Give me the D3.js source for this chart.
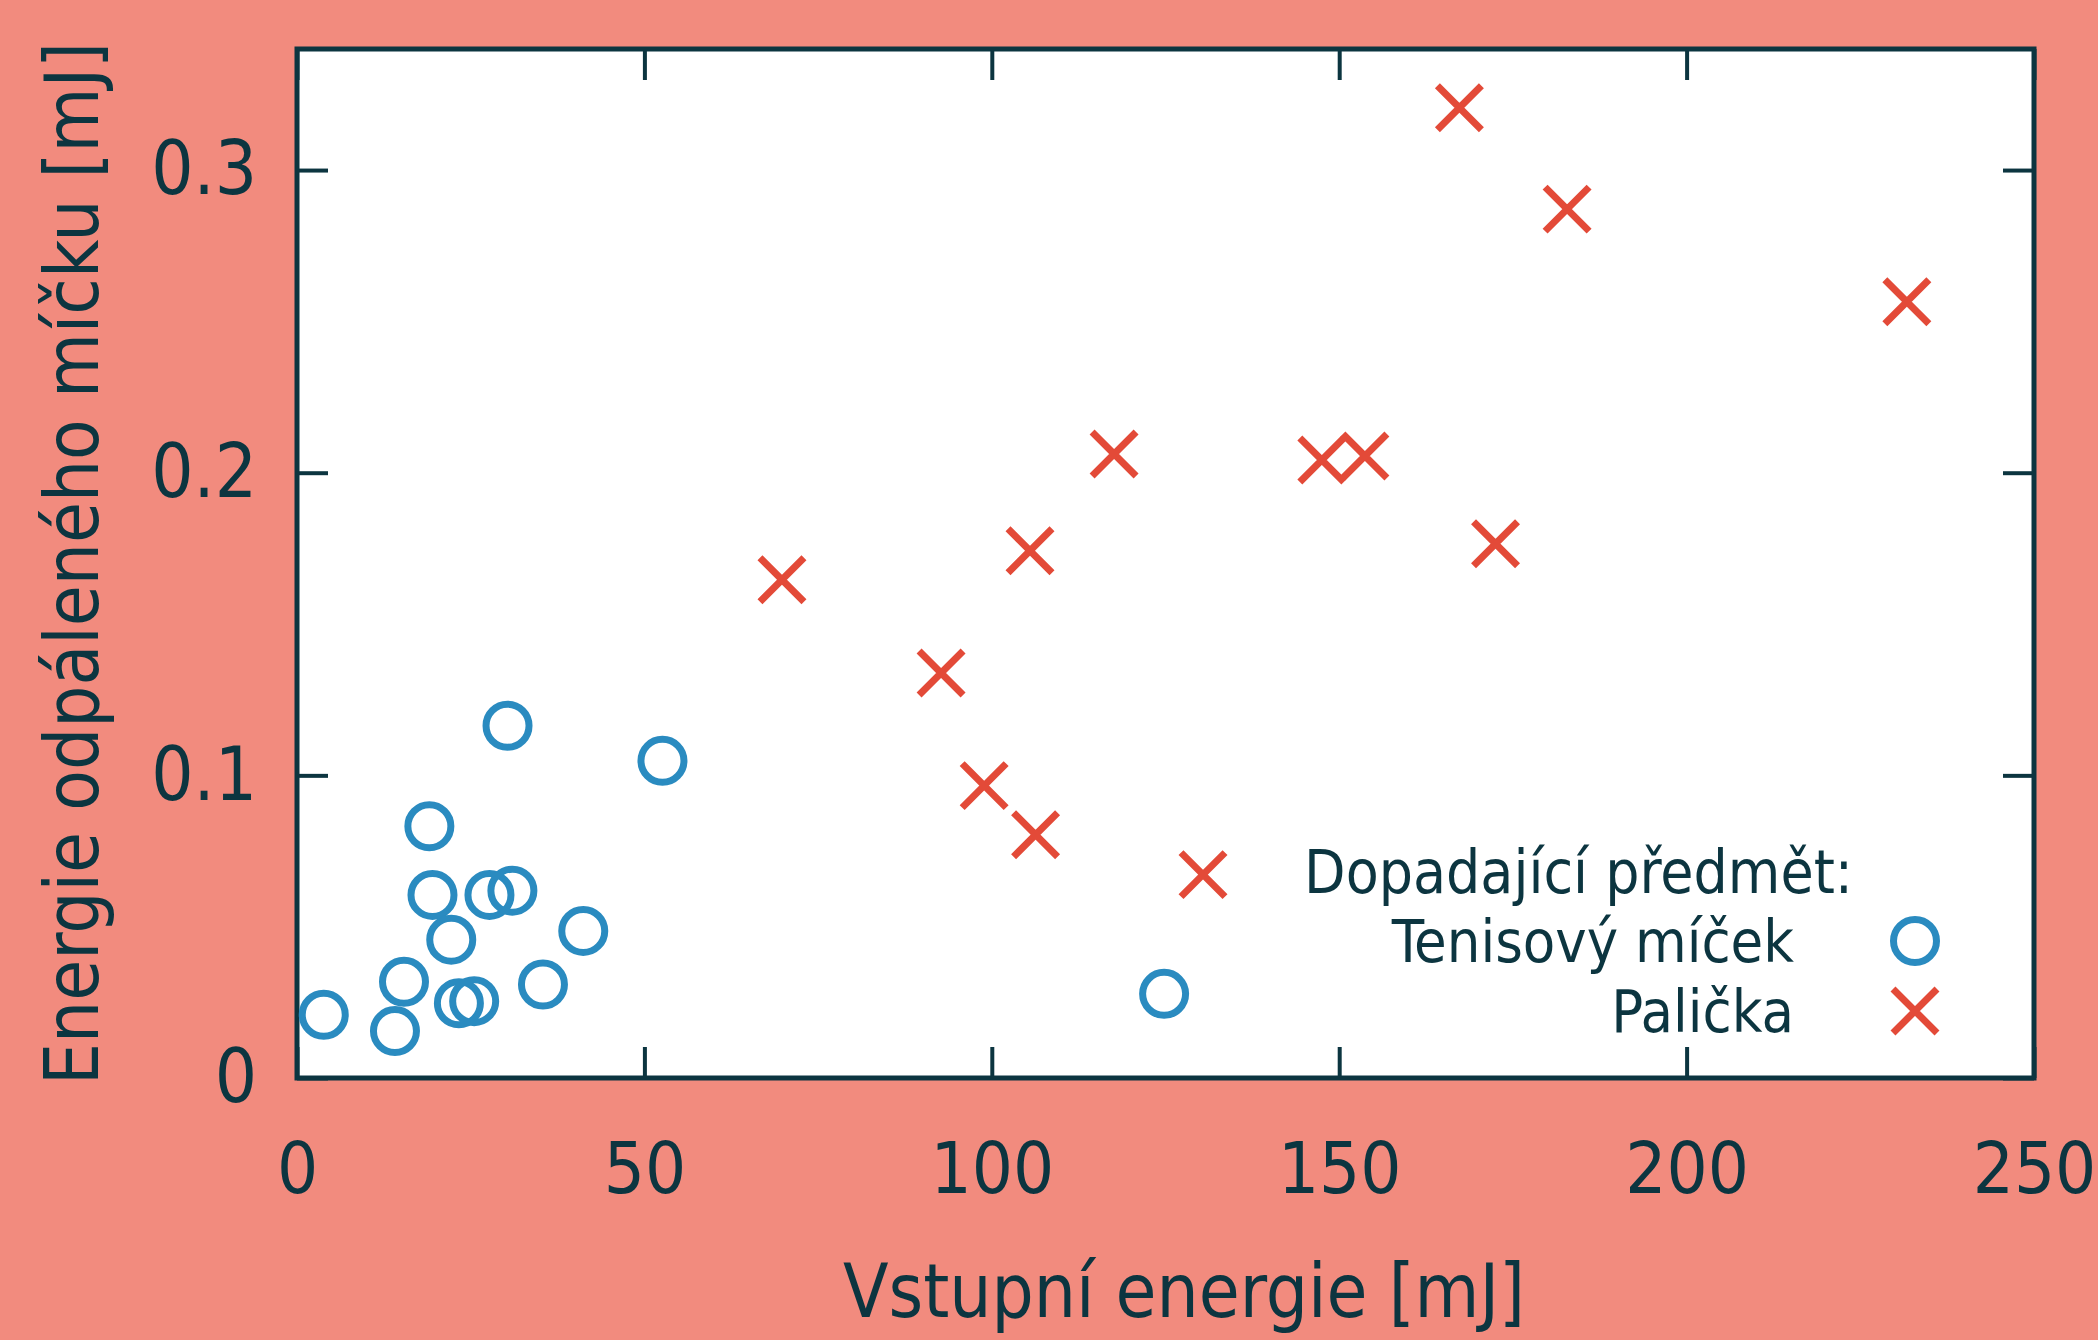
<!DOCTYPE html>
<html>
<head>
<meta charset="utf-8">
<script src="https://cdn.jsdelivr.net/npm/d3@7"></script>
<style>
  body { margin: 0; background: #f28b7e; }
  text { font-family: "DejaVu Sans Condensed", "DejaVu Sans", sans-serif; fill: #0c3540; }
</style>
</head>
<body>
<div id="chart-area"></div>
<script>

// Tenisovy micek (circles)
var ballX = [3.85, 14.1, 15.4, 19.05, 19.5, 22.2, 23.3, 25.5, 27.7, 31.0, 30.3, 35.4, 41.2, 52.6, 124.8];
var ballY = [0.0209, 0.0155, 0.0318, 0.0832, 0.0605, 0.0457, 0.0247, 0.0254, 0.0605, 0.0619, 0.1164, 0.0309, 0.0486, 0.1048, 0.0278];

// Palicka (crosses)
var malletX = [69.8, 92.7, 98.9, 105.5, 106.3, 117.6, 130.4, 147.5, 153.7, 167.3, 172.5, 182.8, 231.7];
var malletY = [0.1646, 0.1338, 0.0966, 0.1742, 0.0804, 0.2062, 0.0672, 0.2042, 0.2055, 0.3206, 0.1765, 0.2871, 0.2565];

var xTicks = [0, 50, 100, 150, 200, 250];
var yTicks = [0, 0.1, 0.2, 0.3];

var seriesNames = ["Tenisový míček", "Palička"];
var legendTitle = "Dopadající předmět:";
var xTitle = "Vstupní energie [mJ]";
var yTitle = "Energie odpáleného míčku [mJ]";

var ink = "#0c3540", blue = "#2a8bc0", red = "#e34a38";

var margin = {top: 49, right: 64, bottom: 262, left: 297};
var width = 2098 - margin.left - margin.right,
    height = 1340 - margin.top - margin.bottom;

var svg = d3.select("#chart-area").append("svg")
    .attr("width", 2098)
    .attr("height", 1340)
  .append("g")
    .attr("transform", "translate(" + margin.left + "," + margin.top + ")");

var x = d3.scaleLinear().domain([0, 250]).range([0, width]);
var y = d3.scaleLinear().domain([0, 0.34]).range([height, 0]);

svg.append("rect")
    .attr("width", width)
    .attr("height", height)
    .attr("fill", "white");

var tickLen = 31;

function styleAxis(g) {
  g.select(".domain").remove();
  g.selectAll(".tick line").attr("stroke", ink).attr("stroke-width", 4);
}

// bottom axis with labels
svg.append("g")
    .attr("transform", "translate(0," + height + ")")
    .call(d3.axisBottom(x).tickValues(xTicks).tickSize(-tickLen).tickFormat(d3.format("d")))
    .call(styleAxis)
    .call(function(g) {
      g.selectAll("text").attr("y", 115).attr("dy", null)
        .style("font-size", "72px").attr("fill", ink);
    });

// top mirror ticks
svg.append("g")
    .call(d3.axisTop(x).tickValues(xTicks).tickSize(-tickLen).tickFormat(""))
    .call(styleAxis);

// left axis with labels
svg.append("g")
    .call(d3.axisLeft(y).tickValues(yTicks).tickSize(-tickLen).tickPadding(40)
      .tickFormat(function(d) { return d === 0 ? "0" : d3.format(".1f")(d); }))
    .call(styleAxis)
    .call(function(g) {
      g.selectAll("text").style("font-size", "74px").attr("fill", ink);
    });

// right mirror ticks
svg.append("g")
    .attr("transform", "translate(" + width + ",0)")
    .call(d3.axisRight(y).tickValues(yTicks).tickSize(-tickLen).tickFormat(""))
    .call(styleAxis);

// frame
svg.append("rect")
    .attr("width", width)
    .attr("height", height)
    .attr("fill", "none")
    .attr("stroke", ink)
    .attr("stroke-width", 5);

// axis titles
svg.append("text")
    .attr("x", 1184 - margin.left)
    .attr("y", 1317 - margin.top)
    .attr("text-anchor", "middle")
    .style("font-size", "74px")
    .text(xTitle);

svg.append("text")
    .attr("transform", "translate(" + (98 - margin.left) + "," + (height / 2) + ") rotate(-90)")
    .attr("text-anchor", "middle")
    .style("font-size", "74px")
    .text(yTitle);

// markers
var crossPath = "M-22,-22L22,22M-22,22L22,-22";

var balls = ballX.map(function(v, i) { return {x: v, y: ballY[i]}; });
var mallets = malletX.map(function(v, i) { return {x: v, y: malletY[i]}; });

svg.selectAll(".ball")
    .data(balls)
  .enter().append("circle")
    .attr("class", "ball")
    .attr("cx", function(d) { return x(d.x); })
    .attr("cy", function(d) { return y(d.y); })
    .attr("r", 21.5)
    .attr("fill", "none")
    .attr("stroke", blue)
    .attr("stroke-width", 7);

svg.selectAll(".mallet")
    .data(mallets)
  .enter().append("path")
    .attr("class", "mallet")
    .attr("transform", function(d) { return "translate(" + x(d.x) + "," + y(d.y) + ")"; })
    .attr("d", crossPath)
    .attr("stroke", red)
    .attr("stroke-width", 7);

// legend
var legend = svg.append("g");
legend.append("text")
    .attr("x", 1853 - margin.left)
    .attr("y", 872 - margin.top)
    .attr("dy", "0.35em")
    .attr("text-anchor", "end")
    .style("font-size", "60px")
    .text(legendTitle);

var rows = legend.selectAll(".row")
    .data(seriesNames)
  .enter().append("g")
    .attr("class", "row")
    .attr("transform", function(d, i) { return "translate(0," + (941 + i * 70 - margin.top) + ")"; });

rows.append("text")
    .attr("x", 1794 - margin.left)
    .attr("dy", "0.35em")
    .attr("text-anchor", "end")
    .style("font-size", "59px")
    .text(function(d) { return d; });

rows.filter(function(d, i) { return i === 0; }).append("circle")
    .attr("cx", 1915 - margin.left)
    .attr("r", 21.5)
    .attr("fill", "none")
    .attr("stroke", blue)
    .attr("stroke-width", 7);

rows.filter(function(d, i) { return i === 1; }).append("path")
    .attr("transform", "translate(" + (1915 - margin.left) + ",0)")
    .attr("d", crossPath)
    .attr("stroke", red)
    .attr("stroke-width", 7);

</script>
</body>
</html>
